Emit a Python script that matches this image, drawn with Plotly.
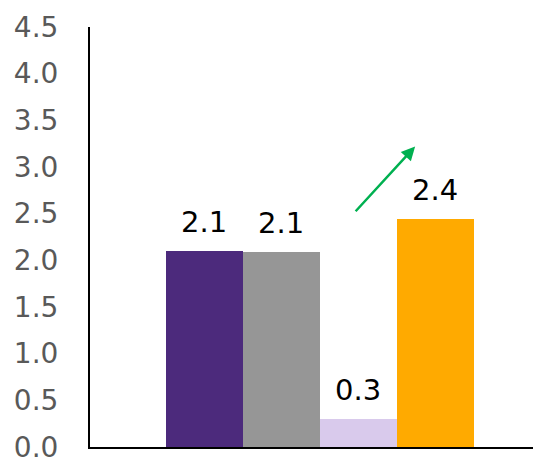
import plotly.graph_objects as go

# Bar values and styling data
categories = [0, 1, 2, 3]
values = [2.10, 2.09, 0.30, 2.44]
colors = ["#4C2A7C", "#969696", "#D9CAEC", "#FFAA00"]
y_ticks = [0, 0.5, 1.0, 1.5, 2.0, 2.5, 3.0, 3.5, 4.0, 4.5]

fig = go.Figure()
fig.add_trace(go.Bar(
    x=categories,
    y=values,
    marker=dict(color=colors, line=dict(width=0)),
    width=1.0,
    showlegend=False,
    hoverinfo="skip",
))

# value labels above each bar
for xc, v in zip(categories, values):
    fig.add_annotation(
        x=xc, y=v, text=f"{v:.1f}", showarrow=False,
        xref="x", yref="y", yanchor="bottom", yshift=10,
        font=dict(family="DejaVu Sans", size=29, color="#000000"),
    )

# upward trend arrow
fig.add_annotation(
    x=2.74, y=3.22, ax=1.95, ay=2.51,
    xref="x", yref="y", axref="x", ayref="y",
    showarrow=True, arrowhead=2, arrowsize=1.1, arrowwidth=2.5,
    arrowcolor="#00B050", text="",
)

fig.update_layout(
    width=533, height=458,
    margin=dict(l=90, r=0, t=27, b=11),
    paper_bgcolor="white", plot_bgcolor="white",
    bargap=0,
    xaxis=dict(
        range=[-1.48, 4.27], showticklabels=False, ticks="",
        showgrid=False, zeroline=False, automargin=False,
        showline=True, linecolor="#000000", linewidth=2,
    ),
    yaxis=dict(
        range=[0, 4.5], tickvals=y_ticks,
        ticktext=[f"{t:.1f}" for t in y_ticks],
        ticks="", ticklabelstandoff=24, ticklabeloverflow="allow",
        automargin=False,
        tickfont=dict(family="DejaVu Sans", size=28, color="#595959"),
        showgrid=False, zeroline=False,
        showline=True, linecolor="#000000", linewidth=2,
    ),
)

fig.write_html("out.html")
